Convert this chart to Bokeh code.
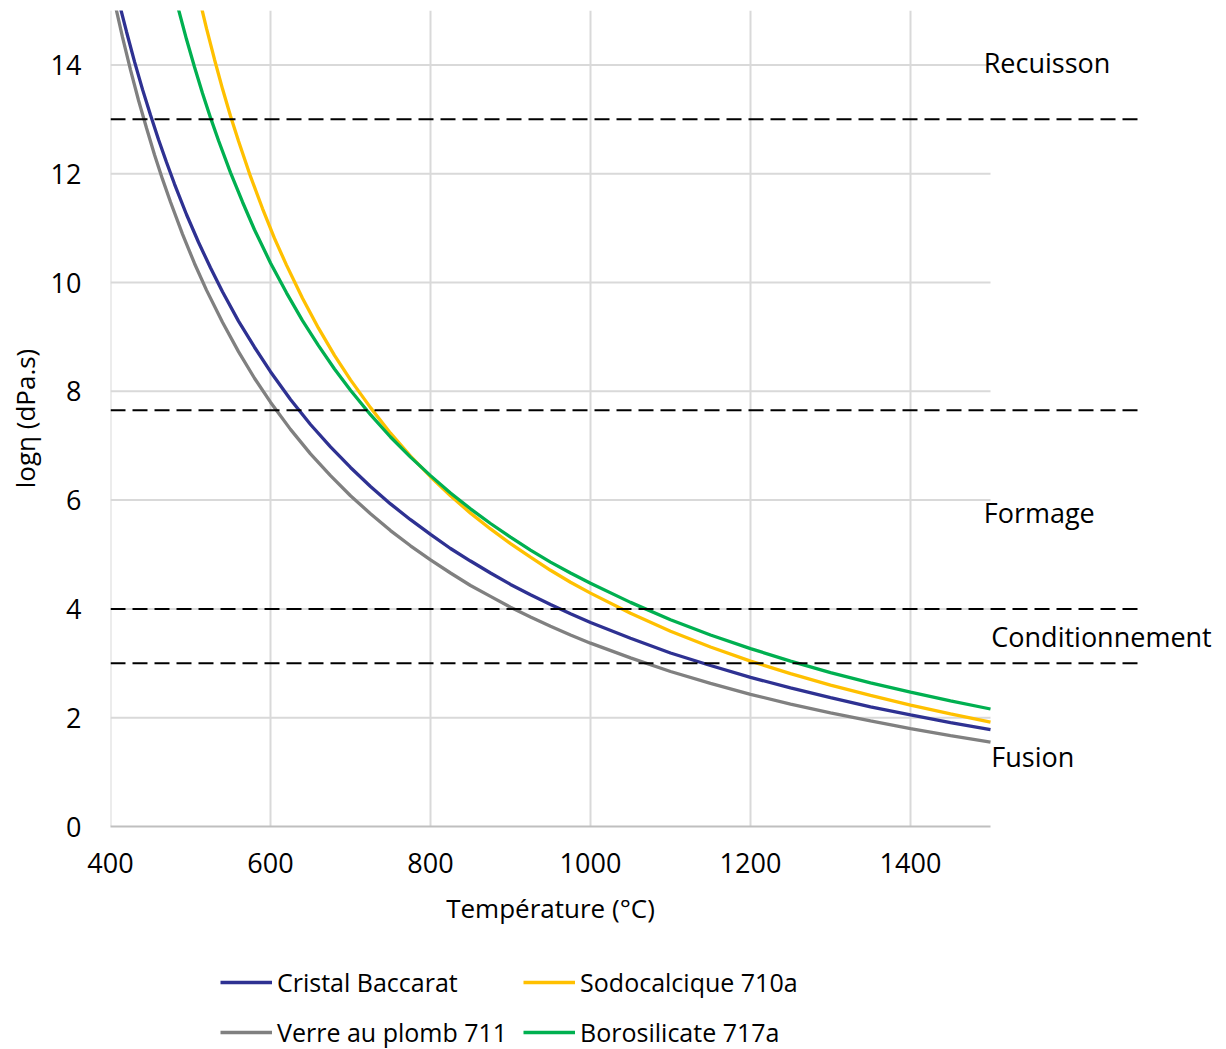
from bokeh.plotting import figure
from bokeh.layouts import column
from bokeh.models import Range1d, FixedTicker, ColumnDataSource, Legend, LegendItem
from bokeh.core.properties import value
from bokeh.embed import file_html
from bokeh.resources import INLINE

FONT = "Open Sans"

# ---- data ----
temp_baccarat = [412, 420, 430, 440, 450, 460, 470, 480, 495, 510, 525, 540, 560, 580, 600, 625, 650,
                 675, 700, 725, 750, 775, 800, 825, 850, 875, 900, 925, 950, 975, 1000, 1050, 1100,
                 1150, 1200, 1250, 1300, 1350, 1400, 1450, 1500]
logeta_baccarat = [15.07, 14.61, 14.06, 13.55, 13.08, 12.63, 12.21, 11.81, 11.25, 10.74, 10.27, 9.83, 9.29,
                   8.81, 8.36, 7.85, 7.39, 6.98, 6.60, 6.25, 5.93, 5.64, 5.37, 5.11, 4.88, 4.66, 4.45,
                   4.26, 4.08, 3.91, 3.75, 3.46, 3.19, 2.96, 2.74, 2.55, 2.37, 2.20, 2.05, 1.91, 1.78]

temp_sodo = [513, 520, 530, 540, 550, 560, 575, 590, 605, 620, 640, 660, 680, 700, 725, 750, 775, 800,
             825, 850, 875, 900, 925, 950, 975, 1000, 1050, 1100, 1150, 1200, 1250, 1300, 1350, 1400,
             1450, 1500]
logeta_sodo = [15.10, 14.67, 14.10, 13.56, 13.06, 12.60, 11.95, 11.36, 10.81, 10.32, 9.71, 9.16, 8.66,
               8.21, 7.70, 7.23, 6.81, 6.43, 6.08, 5.76, 5.47, 5.20, 4.95, 4.71, 4.49, 4.29, 3.92,
               3.59, 3.30, 3.04, 2.81, 2.60, 2.41, 2.23, 2.07, 1.92]

temp_plomb = [407, 415, 425, 435, 445, 455, 465, 475, 490, 505, 520, 540, 560, 580, 600, 625, 650, 675,
              700, 725, 750, 775, 800, 825, 850, 875, 900, 925, 950, 975, 1000, 1050, 1100, 1150, 1200,
              1250, 1300, 1350, 1400, 1450, 1500]
logeta_plomb = [15.03, 14.51, 13.91, 13.35, 12.84, 12.35, 11.90, 11.48, 10.89, 10.35, 9.86, 9.27, 8.73,
                8.24, 7.80, 7.30, 6.85, 6.45, 6.08, 5.75, 5.44, 5.16, 4.90, 4.66, 4.43, 4.23, 4.03,
                3.85, 3.68, 3.52, 3.37, 3.10, 2.85, 2.63, 2.43, 2.25, 2.09, 1.94, 1.80, 1.67, 1.55]

temp_boro = [485, 495, 505, 515, 525, 535, 550, 565, 580, 600, 620, 640, 660, 680, 700, 725, 750, 775,
             800, 825, 850, 875, 900, 925, 950, 975, 1000, 1050, 1100, 1150, 1200, 1250, 1300, 1350,
             1400, 1450, 1500]
logeta_boro = [15.02, 14.47, 13.96, 13.48, 13.03, 12.61, 12.02, 11.48, 10.97, 10.36, 9.81, 9.30, 8.84,
               8.41, 8.02, 7.57, 7.16, 6.79, 6.45, 6.13, 5.84, 5.57, 5.32, 5.08, 4.86, 4.66, 4.47,
               4.12, 3.80, 3.52, 3.27, 3.04, 2.83, 2.64, 2.47, 2.31, 2.16]

series_names = ["Cristal Baccarat", "Sodocalcique 710a", "Verre au plomb 711", "Borosilicate 717a"]
series_temps = [temp_baccarat, temp_sodo, temp_plomb, temp_boro]
series_values = [logeta_baccarat, logeta_sodo, logeta_plomb, logeta_boro]
series_colors = ["#2E3192", "#FFC000", "#808080", "#00B050"]

thresholds = [13, 7.65, 4, 3]
threshold_end = 1687.5

zone_labels = ["Recuisson", "Formage", "Conditionnement", "Fusion"]
zone_x = [1491.5, 1491.5, 1501, 1501]
zone_y = [14.04, 5.78, 3.50, 1.29]

x_ticks = [400, 600, 800, 1000, 1200, 1400]
y_ticks = [0, 2, 4, 6, 8, 10, 12, 14]
x_min, x_max = 400, 1500
y_min, y_max = 0, 15

x_title = "Température (°C)"
y_title = "logη (dPa.s)"

# ---- main figure ----
W, H = 1226, 1049
H1 = 888
left, right, top, bottom = 110, 0, 10, H1 - 826
px_per_deg = 0.8
x_end = x_min + (W - left - right) / px_per_deg

p = figure(width=W, height=H1, output_backend="svg", toolbar_location=None,
           x_range=Range1d(x_min, x_end), y_range=Range1d(y_min, y_max),
           min_border_left=left, min_border_right=right, min_border_top=top,
           min_border_bottom=bottom)
p.outline_line_color = None
p.background_fill_color = "white"
p.border_fill_color = "white"
p.xgrid.visible = False
p.ygrid.visible = False

grid_color = "#d9d9d9"
p.segment(x0=x_ticks, x1=x_ticks, y0=[y_min] * len(x_ticks), y1=[y_max] * len(x_ticks),
          line_color=grid_color, line_width=2)
hy = [t for t in y_ticks if t > 0]
p.segment(x0=[x_min] * len(hy), x1=[x_max] * len(hy), y0=hy, y1=hy,
          line_color=grid_color, line_width=2)

for name, xs, ys, col in zip(series_names, series_temps, series_values, series_colors):
    p.line(xs, ys, line_color=col, line_width=3.3)

p.segment(x0=[x_min] * len(thresholds), x1=[threshold_end] * len(thresholds),
          y0=thresholds, y1=thresholds, line_color="black", line_width=2, line_dash="15 7")

p.text(x="x", y="y", text="t", source=ColumnDataSource(dict(x=zone_x, y=zone_y, t=zone_labels)),
       text_font=value(FONT), text_font_size="27px", text_color="black",
       text_align="left", text_baseline="alphabetic")

xa = p.xaxis[0]
xa.ticker = FixedTicker(ticks=x_ticks)
xa.bounds = (x_min, x_max)
xa.axis_line_color = "#bfbfbf"
xa.axis_line_width = 2
xa.major_tick_line_color = None
xa.minor_tick_line_color = None
xa.major_tick_out = 0
xa.major_tick_in = 0
xa.major_label_standoff = 26
xa.major_label_text_font = FONT
xa.major_label_text_font_size = "27px"
xa.major_label_text_color = "black"

ya = p.yaxis[0]
ya.ticker = FixedTicker(ticks=y_ticks)
ya.axis_line_color = None
ya.major_tick_line_color = None
ya.minor_tick_line_color = None
ya.major_tick_out = 0
ya.major_tick_in = 0
ya.major_label_standoff = 29
ya.major_label_text_font = FONT
ya.major_label_text_font_size = "27px"
ya.major_label_text_color = "black"
ya.axis_label = y_title
ya.axis_label_text_font = FONT
ya.axis_label_text_font_size = "26px"
ya.axis_label_text_font_style = "normal"
ya.axis_label_text_color = "black"
ya.axis_label_standoff = 5

# ---- bottom strip: axis title + legend (frame aligned with the main plot) ----
H2 = H - H1
p2 = figure(width=W, height=H2, output_backend="svg", toolbar_location=None,
            x_range=Range1d(x_min, x_end), y_range=Range1d(0, H2),
            x_axis_location=None, y_axis_location=None,
            min_border_left=left, min_border_right=0, min_border_top=0, min_border_bottom=0)
p2.outline_line_color = None
p2.xgrid.visible = False
p2.ygrid.visible = False
p2.background_fill_color = "white"
p2.border_fill_color = "white"

p2.text(x=[(x_min + x_max) / 2], y=[H2 - (907 - H1)], text=[x_title], text_font=value(FONT),
        text_font_size="26px", text_color="black", text_align="center", text_baseline="middle")

# legend proxies (hidden copies of the series, only used for the legend swatches)
legend_renderers = [p2.line(xs, ys, line_color=c, line_width=3.3, visible=False)
                    for xs, ys, c in zip(series_temps, series_values, series_colors)]
items = [LegendItem(label=n, renderers=[r]) for n, r in zip(series_names, legend_renderers)]
legend = Legend(items=items, orientation="horizontal", ncols=2, location=(left, 0),
                label_text_font=FONT, label_text_font_size="25px", label_text_color="black",
                glyph_width=52, glyph_height=34, label_height=34, label_standoff=5,
                spacing=16, padding=0, margin=0, border_line_color=None,
                background_fill_alpha=0, inactive_fill_alpha=0)
p2.add_layout(legend)

layout = column(p, p2, spacing=0)
open("out.html", "w").write(file_html(layout, INLINE))
